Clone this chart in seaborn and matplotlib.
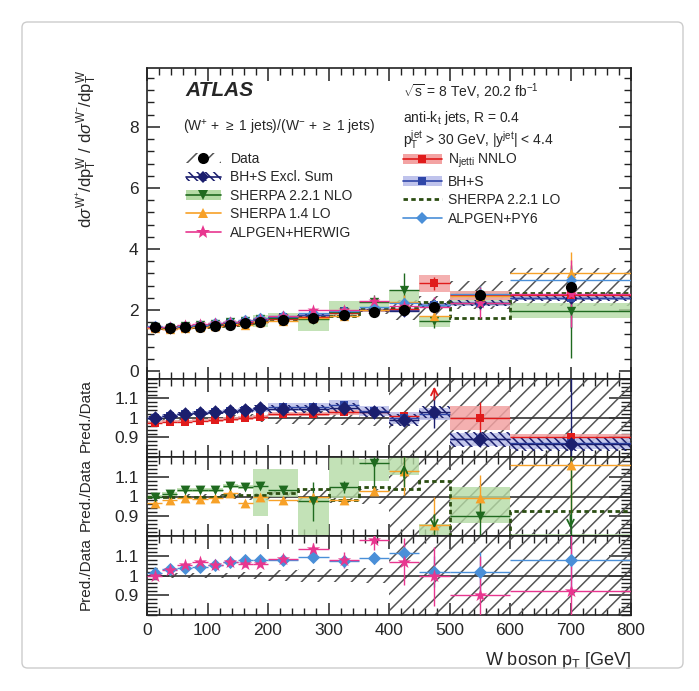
#
# W+/W- ratio vs W boson pT, with Pred./Data panels
#

import numpy as np
import matplotlib
matplotlib.use("Agg")
import matplotlib.pyplot as plt
import seaborn as sns
from matplotlib.patches import Patch, FancyBboxPatch
from matplotlib.lines import Line2D
from matplotlib.ticker import MultipleLocator, FixedLocator, FormatStrFormatter

#%%
# Values

edges = [0, 25, 50, 75, 100, 125, 150, 175, 200, 250, 300, 350, 400, 450, 500, 600, 800]

data = [1.45, 1.40, 1.43, 1.45, 1.48, 1.51, 1.56, 1.61, 1.67, 1.75, 1.84, 1.94, 2.00, 2.11, 2.49, 2.76]
data_unc = [0.015, 0.015, 0.015, 0.015, 0.015, 0.015, 0.02, 0.02, 0.03, 0.035, 0.035, 0.04, 0.21, 0.22, 0.24, 0.30]

# Pred./Data, panel 1
nnlo = [0.975, 0.98, 0.98, 0.985, 0.99, 0.995, 1.0, 1.005, 1.02, 1.02, 1.03, 1.03, 1.01, 1.36, 1.0, 0.905]
nnlo_band = [0.008, 0.008, 0.008, 0.008, 0.01, 0.01, 0.01, 0.01, 0.012, 0.012, 0.015, 0.015, 0.02, 0.13, 0.06, 0.015]
nnlo_err = [0, 0, 0, 0, 0, 0, 0, 0, 0, 0, 0, 0, 0.01, 0.1, 0.08, 0.02]

bhs = [1.0, 1.01, 1.02, 1.025, 1.03, 1.035, 1.04, 1.045, 1.055, 1.055, 1.065, 1.035, 1.0, 1.02, 0.89, 0.87]
bhs_band = [0.008, 0.008, 0.008, 0.01, 0.01, 0.01, 0.012, 0.012, 0.02, 0.02, 0.025, 0.025, 0.03, 0.03, 0.035, 0.03]

excl = [1.0, 1.01, 1.02, 1.025, 1.03, 1.035, 1.04, 1.05, 1.045, 1.045, 1.05, 1.03, 0.99, 1.03, 0.89, 0.865]
excl_band = [0.01, 0.01, 0.01, 0.01, 0.012, 0.012, 0.015, 0.015, 0.02, 0.02, 0.025, 0.025, 0.03, 0.03, 0.04, 0.035]
excl_err = [0, 0, 0, 0, 0, 0, 0, 0, 0, 0, 0, 0, 0.03, 0.08, 0.04, 0.35]

# Pred./Data, panel 2
sherpa_nlo = [1.0, 1.015, 1.035, 1.035, 1.035, 1.055, 1.05, 1.055, 1.035, 0.975, 1.05, 1.17, 1.33, 0.77, 0.9, 0.71]
nlo_lo = [0.99, 1.005, 1.025, 1.025, 1.025, 1.045, 1.04, 0.90, 1.0, 0.75, 0.99, 1.08, 1.11, 0.69, 0.865, 0.63]
nlo_hi = [1.01, 1.025, 1.045, 1.045, 1.045, 1.065, 1.06, 1.14, 1.14, 1.0, 1.25, 1.19, 1.33, 0.86, 1.05, 0.81]
nlo_err = [0.005, 0.005, 0.005, 0.005, 0.005, 0.008, 0.008, 0.01, 0.02, 0.1, 0.03, 0.12, 0.28, 0.1, 0.1, 0.55]

sherpa14 = [0.965, 0.98, 0.99, 0.985, 0.99, 1.02, 0.965, 1.0, 0.98, 1.0, 0.98, 1.03, 1.13, 0.855, 0.99, 1.16]
s14_err = [0.005, 0.005, 0.005, 0.005, 0.005, 0.008, 0.008, 0.01, 0.01, 0.015, 0.015, 0.02, 0.12, 0.14, 0.12, 0.25]

sherpa221_lo = [1.0, 1.0, 1.0, 1.0, 1.0, 1.01, 1.01, 1.01, 1.02, 1.04, 0.98, 1.05, 1.04, 1.08, 0.70, 0.925]

# Pred./Data, panel 3
alpgen_py6 = [1.015, 1.035, 1.04, 1.045, 1.055, 1.07, 1.08, 1.08, 1.08, 1.095, 1.075, 1.09, 1.115, 1.02, 1.02, 1.08]
py6_err = [0.005, 0.005, 0.005, 0.005, 0.008, 0.008, 0.008, 0.01, 0.01, 0.015, 0.02, 0.03, 0.04, 0.08, 0.1, 0.15]
alpgen_hw = [1.0, 1.027, 1.055, 1.07, 1.055, 1.07, 1.057, 1.06, 1.085, 1.135, 1.08, 1.18, 1.07, 0.995, 0.9, 0.92]
hw_err = [0.005, 0.008, 0.008, 0.01, 0.01, 0.01, 0.012, 0.012, 0.015, 0.03, 0.04, 0.05, 0.12, 0.15, 0.2, 0.4]

#%%
# Style

sns.set_theme(style='ticks')
plt.rcParams['font.family'] = ['Liberation Sans', 'DejaVu Sans']
plt.rcParams['mathtext.fontset'] = 'custom'
plt.rcParams['mathtext.rm'] = 'Liberation Sans'
plt.rcParams['mathtext.it'] = 'Liberation Sans:italic'
plt.rcParams['mathtext.bf'] = 'Liberation Sans:bold'
plt.rcParams['hatch.linewidth'] = 1.1
plt.rcParams['axes.linewidth'] = 1.2
plt.rcParams['axes.edgecolor'] = '#222222'

c_data = 'black'
c_excl = '#1b1f6e'
c_nlo = '#1f6a1f'
c_nlo_band = '#b5dba5'
c_s14 = '#f7a128'
c_hw = '#e8368f'
c_nnlo = '#e01b1b'
c_nnlo_band = '#f3a3a3'
c_bhs = '#2f46a8'
c_bhs_band = '#bfc3ec'
c_lo = '#2b4d12'
c_py6 = '#4a8fd8'

edges = np.array(edges, dtype=float)
cx = (edges[:-1] + edges[1:]) / 2
hw = np.diff(edges) / 2
width = np.diff(edges)
data = np.array(data)

W, H = 699, 691
fig = plt.figure(figsize=(W / 100, H / 100), dpi=100)

def frac(x0, y0, x1, y1):
    # pixel box -> figure fraction [left, bottom, width, height]
    return [x0 / W, 1 - y1 / H, (x1 - x0) / W, (y1 - y0) / H]

ax1 = fig.add_axes(frac(147, 68, 631, 379))
ax2 = fig.add_axes(frac(147, 379, 631, 457))
ax3 = fig.add_axes(frac(147, 457, 631, 536))
ax4 = fig.add_axes(frac(147, 536, 631, 615))

LO_STEP = (0, (1.6, 1.2))


def band(ax, lo, hi, color, alpha=1.0, hatch=None, z=2):
    lo = np.asarray(lo)
    hi = np.asarray(hi)
    if hatch:
        ax.bar(cx, hi - lo, width=width, bottom=lo, facecolor='none',
               edgecolor=color, hatch=hatch, linewidth=0, zorder=z)
    else:
        ax.bar(cx, hi - lo, width=width, bottom=lo, color=color,
               alpha=alpha, linewidth=0, zorder=z)


def points(ax, y, err, color, marker, s, z=5, lw=1.0):
    y = np.asarray(y)
    ax.errorbar(cx, y, yerr=err, xerr=hw, fmt='none', ecolor=color,
                elinewidth=lw, zorder=z - 1)
    sns.scatterplot(x=cx, y=y, ax=ax, marker=marker, color=color, s=s,
                    linewidth=0, zorder=z, legend=False)


def arrows(ax, y, color):
    lo, hi = ax.get_ylim()
    for x, v in zip(cx, y):
        if v > hi:
            ax.annotate('', xy=(x, hi - 0.025), xytext=(x, hi - 0.12),
                        arrowprops=dict(arrowstyle='->', color=color, lw=1.3), zorder=7)
        elif v < lo:
            ax.annotate('', xy=(x, lo + 0.025), xytext=(x, lo + 0.12),
                        arrowprops=dict(arrowstyle='->', color=color, lw=1.3), zorder=7)


#%%
# Top panel: ratio of cross sections

ax1.set_xlim(0, 800)
ax1.set_ylim(-0.26, 9.93)
for a in (ax2, ax3, ax4):
    a.set_xlim(0, 800)
    a.set_ylim(0.8, 1.2)

unc = np.array(data_unc)
band(ax1, data * (1 - unc * 0.75), data * (1 + unc * 0.75), '#555555', hatch='//', z=1)
band(ax1, data * (np.array(nlo_lo)), data * np.array(nlo_hi), c_nlo_band, alpha=0.8, z=2)
band(ax1, data * (np.array(nnlo) - nnlo_band), data * (np.array(nnlo) + nnlo_band), c_nnlo_band, alpha=0.85, z=2)
band(ax1, data * (np.array(bhs) - bhs_band), data * (np.array(bhs) + bhs_band), c_bhs_band, alpha=0.9, z=2)
band(ax1, data * (np.array(excl) - excl_band), data * (np.array(excl) + excl_band), c_excl, hatch='\\\\\\\\', z=2)
ax1.stairs(data * np.array(sherpa221_lo), edges, baseline=None, color=c_lo,
           linestyle=LO_STEP, linewidth=2, zorder=3)

points(ax1, data * np.array(excl), data * np.array(excl_err), c_excl, 'D', 40)
points(ax1, data * np.array(bhs), 0 * data, c_bhs, 's', 30)
points(ax1, data * np.array(nnlo), data * np.array(nnlo_err), c_nnlo, 's', 30)
points(ax1, data * np.array(sherpa_nlo), data * np.array(nlo_err), c_nlo, 'v', 45)
points(ax1, data * np.array(sherpa14), data * np.array(s14_err), c_s14, '^', 45)
points(ax1, data * np.array(alpgen_py6), data * np.array(py6_err), c_py6, 'D', 35)
points(ax1, data * np.array(alpgen_hw), data * np.array(hw_err), c_hw, '*', 80)
sns.scatterplot(x=cx, y=data, ax=ax1, marker='o', color=c_data, s=65,
                linewidth=0, zorder=8, legend=False)

#%%
# Ratio panels

for a in (ax2, ax3, ax4):
    band(a, 1 - unc, 1 + unc, '#555555', hatch='//', z=1)
    a.axhline(1, color='#333333', linewidth=1.2, zorder=2)

band(ax2, np.array(nnlo) - nnlo_band, np.array(nnlo) + nnlo_band, c_nnlo_band, alpha=0.85, z=2)
band(ax2, np.array(bhs) - bhs_band, np.array(bhs) + bhs_band, c_bhs_band, alpha=0.9, z=2)
band(ax2, np.array(excl) - excl_band, np.array(excl) + excl_band, c_excl, hatch='\\\\\\\\', z=2)
points(ax2, nnlo, nnlo_err, c_nnlo, 's', 35)
points(ax2, bhs, np.zeros(16), c_bhs, 's', 35)
points(ax2, excl, excl_err, c_excl, 'D', 55)
arrows(ax2, nnlo, c_nnlo)

band(ax3, nlo_lo, nlo_hi, c_nlo_band, alpha=0.8, z=2)
ax3.stairs(sherpa221_lo, edges, baseline=None, color=c_lo, linestyle=LO_STEP,
           linewidth=2, zorder=3)
points(ax3, sherpa14, s14_err, c_s14, '^', 50)
points(ax3, sherpa_nlo, nlo_err, c_nlo, 'v', 50)
arrows(ax3, sherpa_nlo, c_nlo)

points(ax4, alpgen_py6, py6_err, c_py6, 'D', 45)
points(ax4, alpgen_hw, hw_err, c_hw, '*', 100)

#%%
# Axes, ticks, labels

for a in (ax1, ax2, ax3, ax4):
    a.xaxis.set_major_locator(MultipleLocator(100))
    a.xaxis.set_minor_locator(MultipleLocator(20))
    a.tick_params(which='both', direction='in', top=True, right=True,
                  labelsize=12.5, pad=6, color='#222222')
    a.tick_params(which='major', length=9, width=1.1)
    a.tick_params(which='minor', length=5, width=1.0)
    a.set_xlabel('')

ax1.yaxis.set_major_locator(MultipleLocator(2))
ax1.yaxis.set_minor_locator(MultipleLocator(0.4))
ax1.tick_params(labelbottom=False)

for a in (ax2, ax3, ax4):
    a.yaxis.set_major_locator(FixedLocator([0.9, 1.0, 1.1]))
    a.yaxis.set_major_formatter(FormatStrFormatter('%g'))
    a.yaxis.set_minor_locator(MultipleLocator(0.02))
    a.tick_params(axis='y', which='major', length=16)
    a.tick_params(axis='y', which='minor', length=7)
    a.set_ylabel('Pred./Data', fontsize=11)
    a.yaxis.set_label_coords(-0.126, 0.065)
    a.yaxis.label.set_ha('left')
    a.yaxis.label.set_va('center')
ax2.tick_params(labelbottom=False)
ax3.tick_params(labelbottom=False)

ax1.set_ylabel(r'd$\sigma^{\mathrm{W}^{+}}$/dp$_{\mathrm{T}}^{\mathrm{W}}$ / '
               r'd$\sigma^{\mathrm{W}^{-}}$/dp$_{\mathrm{T}}^{\mathrm{W}}$', fontsize=12)
ax1.yaxis.set_label_coords(-0.124, 0.995)
ax1.yaxis.label.set_ha('right')
ax1.yaxis.label.set_va('center')

ax4.set_xlabel(r'W boson p$_{\mathrm{T}}$ [GeV]', fontsize=13)
ax4.xaxis.set_label_coords(1.0, -0.57)
ax4.xaxis.label.set_ha('right')
ax4.xaxis.label.set_va('center')

# Annotate figure
fig.text(185 / W, 1 - 90 / H, 'ATLAS', fontsize=15, fontweight='bold',
         fontstyle='italic', va='center', ha='left')
fig.text(183 / W, 1 - 127 / H, r'(W$^{+}$ + $\geq$ 1 jets)/(W$^{-}$ + $\geq$ 1 jets)',
         fontsize=10, va='center', ha='left')
fig.text(403 / W, 1 - 92 / H, r'$\sqrt{\mathrm{s}}$ = 8 TeV, 20.2 fb$^{-1}$',
         fontsize=10, va='center', ha='left')
fig.text(403 / W, 1 - 118 / H, r'anti-k$_{\mathrm{t}}$ jets, R = 0.4',
         fontsize=10, va='center', ha='left')
fig.text(403 / W, 1 - 140 / H,
         r'p$_{\mathrm{T}}^{\mathrm{jet}}$ > 30 GeV, |y$^{\mathrm{jet}}$| < 4.4',
         fontsize=10, va='center', ha='left')

# Legends
def mk(color, marker, ms=7, ls='-'):
    return Line2D([], [], color=color, marker=marker, markersize=ms,
                  linestyle=ls, linewidth=1.2, markeredgewidth=0)

h_left = [
    (Patch(facecolor='none', edgecolor='#555555', hatch='//', linewidth=0), mk(c_data, 'o', 8, 'none')),
    (Patch(facecolor='none', edgecolor=c_excl, hatch='\\\\\\\\', linewidth=0), mk(c_excl, 'D', 6)),
    (Patch(facecolor=c_nlo_band, linewidth=0), mk(c_nlo, 'v', 7)),
    mk(c_s14, '^', 7),
    mk(c_hw, '*', 10),
]
l_left = ['Data', 'BH+S Excl. Sum', 'SHERPA 2.2.1 NLO', 'SHERPA 1.4 LO', 'ALPGEN+HERWIG']
h_right = [
    (Patch(facecolor=c_nnlo_band, linewidth=0), mk(c_nnlo, 's', 6)),
    (Patch(facecolor=c_bhs_band, linewidth=0), mk(c_bhs, 's', 6)),
    Line2D([], [], color=c_lo, linestyle=LO_STEP, linewidth=2),
    mk(c_py6, 'D', 6),
]
l_right = [r'N$_{\mathrm{jetti}}$ NNLO', 'BH+S', 'SHERPA 2.2.1 LO', 'ALPGEN+PY6']

leg1 = fig.legend(h_left, l_left, loc='upper left', bbox_to_anchor=(186 / W, 1 - 152 / H),
                  frameon=False, fontsize=10, borderpad=0, borderaxespad=0,
                  handlelength=2.5, handletextpad=0.7, labelspacing=0.32)
leg2 = fig.legend(h_right, l_right, loc='upper left', bbox_to_anchor=(403 / W, 1 - 152 / H),
                  frameon=False, fontsize=10, borderpad=0, borderaxespad=0,
                  handlelength=2.8, handletextpad=0.45, labelspacing=0.32)

# Outer frame
fig.patches.append(FancyBboxPatch((22 / W, 1 - 668 / H), 661 / W, 646 / H,
                                  boxstyle='round,pad=0,rounding_size=0.008',
                                  transform=fig.transFigure, fill=False,
                                  edgecolor='#cccccc', linewidth=1.0))

fig.savefig('out.png', dpi=100)
